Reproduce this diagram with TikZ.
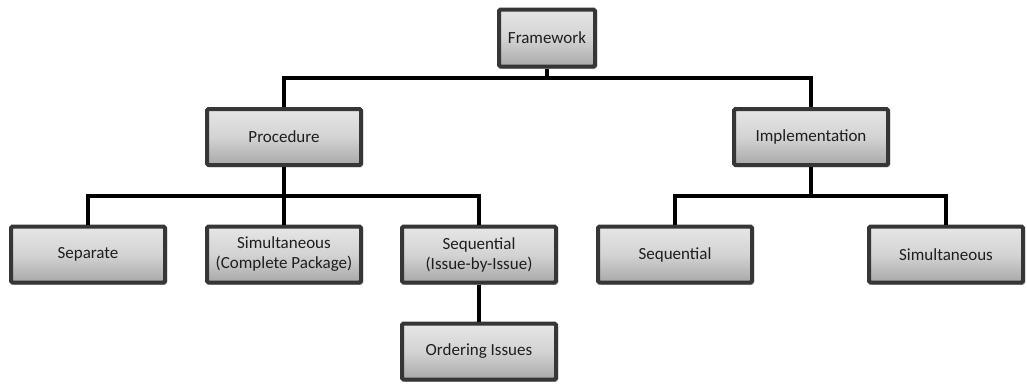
\documentclass[tikz,border=0pt]{standalone}
\usepackage{fontspec}
\setmainfont{Carlito}
\usetikzlibrary{shadows}
\definecolor{boxtop}{HTML}{E6E6E6}
\definecolor{boxbot}{HTML}{A8A8A8}
\definecolor{boxedge}{HTML}{363636}
\definecolor{boxtext}{HTML}{1E1E1E}
\tikzset{
  box/.style={rectangle, rounded corners=1.5pt, draw=boxedge, line width=4pt,
    top color=boxtop, bottom color=boxbot, middle color=boxtop!70!boxbot,
    minimum width=154pt, minimum height=56pt, inner sep=2pt,
    align=center, text=boxtext, font=\fontsize{17}{20}\selectfont,
    drop shadow={shadow xshift=2pt, shadow yshift=-2pt, opacity=0.35, fill=black}},
  link/.style={line width=4pt, draw=black}
}
\begin{document}
\begin{tikzpicture}[x=1pt, y=-1pt]
\useasboundingbox (0,0) rectangle (1027,384);
% junction points of the connector bars
\coordinate (b0) at (547,78);
\coordinate (b1) at (284,196);
\coordinate (b2) at (811,196);
% boxes
\node[box, minimum width=96pt, minimum height=57pt] (fw) at (547,38) {Framework};
\node[box] (proc) at (284,137) {Procedure};
\node[box] (impl) at (811,137) {Implementation};
\node[box] (sep) at (88,254.5) {Separate};
\node[box] (simcp) at (284,254.5) {Simultaneous\\(Complete Package)};
\node[box] (seqii) at (479,254.5) {Sequential\\(Issue-by-Issue)};
\node[box] (seq) at (675,254.5) {Sequential};
\node[box] (sim) at (946,254.5) {Simultaneous};
\node[box] (ord) at (479,351.5) {Ordering Issues};
% connectors
\draw[link] (fw.south) -- (b0) -| (proc.north);
\draw[link] (b0) -| (impl.north);
\draw[link] (proc.south) -- (b1) -| (sep.north);
\draw[link] (b1) -- (simcp.north);
\draw[link] (b1) -| (seqii.north);
\draw[link] (impl.south) -- (b2) -| (seq.north);
\draw[link] (b2) -| (sim.north);
\draw[link] (seqii.south) -- (ord.north);
\end{tikzpicture}
\end{document}
